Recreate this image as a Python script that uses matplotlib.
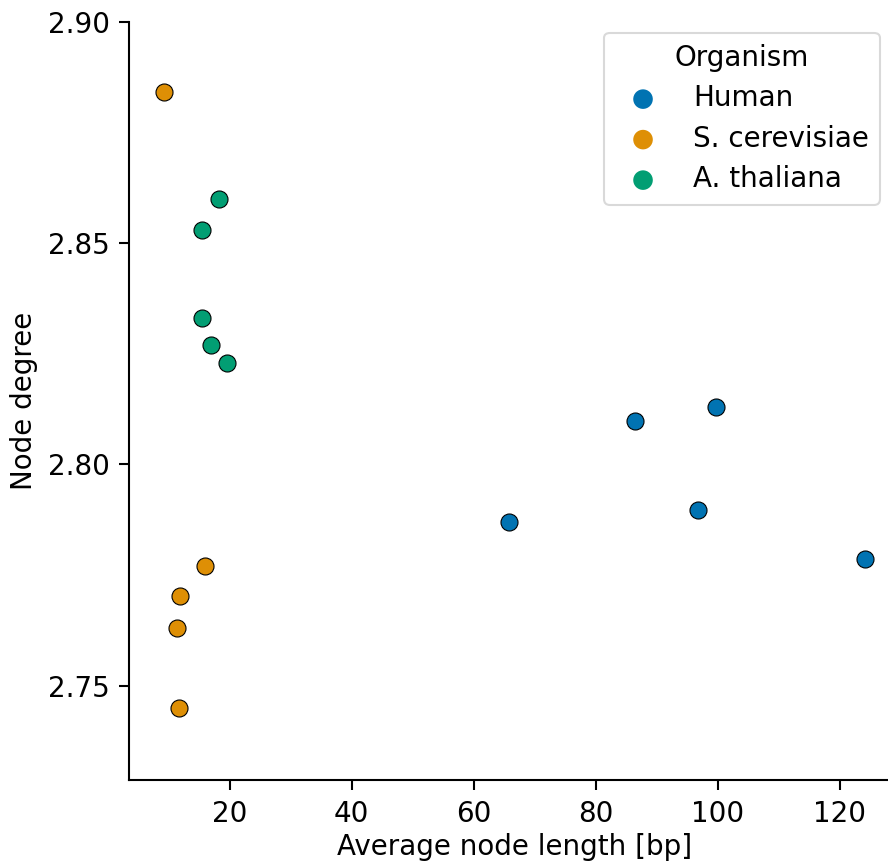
import numpy as np
from matplotlib import pyplot as plt

# values
organisms = ["Human", "S. cerevisiae", "A. thaliana"]
colors = ["#0173b2", "#de8f05", "#029e73"]

human_len = [65.8, 86.5, 99.7, 96.7, 124.1]
human_deg = [2.7871, 2.8098, 2.8131, 2.7898, 2.7787]

yeast_len = [9.3, 15.97, 11.87, 11.43, 11.76]
yeast_deg = [2.8841, 2.7770, 2.7703, 2.7630, 2.7449]

plant_len = [18.2, 15.41, 15.53, 17.0, 19.6]
plant_deg = [2.8601, 2.8529, 2.8330, 2.8270, 2.8229]

x_ticks = [20, 40, 60, 80, 100, 120]
y_ticks = [2.75, 2.80, 2.85, 2.90]

if __name__ == "__main__":
    plt.rcParams["font.family"] = "DejaVu Sans"
    fs = 20

    fig = plt.figure(figsize=(8.88, 8.63), dpi=100)
    # the right end of the axes lies past the figure edge, like the reference
    ax = fig.add_axes([0.1456, 0.0962, 0.8677, 0.8783])

    series = [(human_len, human_deg), (yeast_len, yeast_deg), (plant_len, plant_deg)]
    for (xs, ys), name, c in zip(series, organisms, colors):
        ax.scatter(xs, ys, s=150, c=c, edgecolors="black", linewidths=0.8,
                   label=name, zorder=3)

    ax.set_xlim(3.56, 129.84)
    ax.set_ylim(2.7287, 2.90)
    ax.set_xticks(x_ticks)
    ax.set_yticks(y_ticks)
    ax.set_yticklabels([f"{v:.2f}" for v in y_ticks])

    for side in ["top", "right"]:
        ax.spines[side].set_visible(False)
    for side in ["left", "bottom"]:
        ax.spines[side].set_linewidth(1.5)
    ax.tick_params(labelsize=fs, length=7.2, width=1.5, pad=7)

    ax.set_xlabel("Average node length [bp]", fontsize=fs, labelpad=4)
    ax.set_ylabel("Node degree", fontsize=fs, labelpad=7)

    leg = ax.legend(title="Organism", fontsize=fs, title_fontsize=fs,
                    loc="upper right", bbox_to_anchor=(0.991, 0.962),
                    bbox_transform=fig.transFigure, frameon=True,
                    borderaxespad=0, markerscale=1.15, labelspacing=0.45)
    for h in leg.legend_handles:
        h.set_edgecolor("none")
    leg.get_frame().set_linewidth(1.5)
    leg.get_frame().set_edgecolor("#d0d0d0")

    plt.savefig("out.png", dpi=100)
